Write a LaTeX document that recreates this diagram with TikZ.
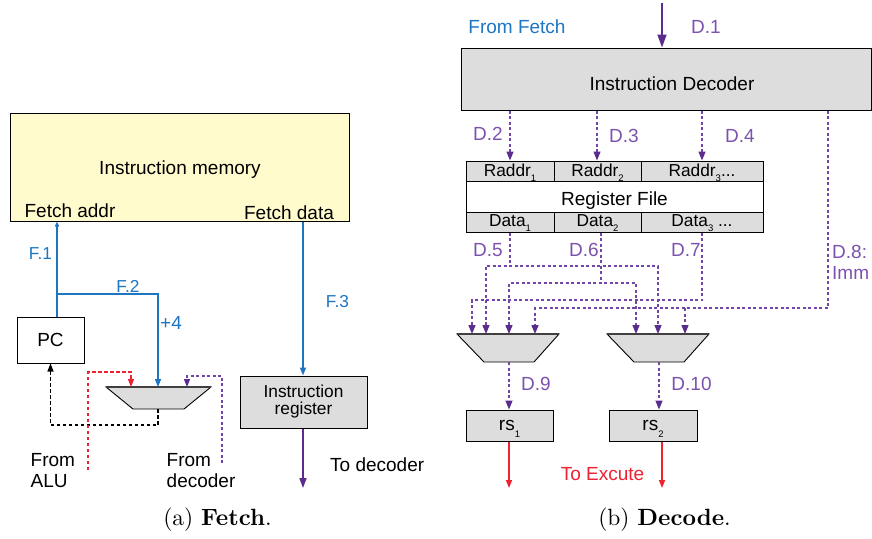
\documentclass[tikz,border=0pt]{standalone}
\usepackage{fontspec}
\usepackage{graphicx}
\newfontfamily\arialfam{Liberation Sans}
\usetikzlibrary{arrows.meta}

\definecolor{fblue}{HTML}{1E76C3}
\definecolor{ptext}{HTML}{7C52B0}
\definecolor{pline}{HTML}{7245A8}
\definecolor{ptip}{HTML}{5A2C8E}
\definecolor{ared}{HTML}{EE2231}
\definecolor{boxgray}{HTML}{DDDDDD}
\definecolor{memyellow}{HTML}{FFFBCD}

\newcommand\bigtxt{\arialfam\fontsize{19}{21}\selectfont}
\newcommand\smalltxt{\arialfam\fontsize{17.3}{17}\selectfont}
\newcommand\lowsub[2]{\raisebox{-#1}{\fontsize{9.5}{10}\selectfont #2}}

\tikzset{
  txt/.style={font=\bigtxt, inner sep=0pt, anchor=base},
  stxt/.style={font=\smalltxt, inner sep=0pt, anchor=base},
  ublock/.style={draw=black, line width=1pt, inner sep=0pt},
  gblock/.style={ublock, fill=boxgray},
  muxshape/.style={draw=black, line width=0.9pt, fill=boxgray},
  muxtop/.style={draw=black!75, line width=1.6pt},
  bluewire/.style={draw=fblue, line width=1.6pt, -{Triangle[length=8pt,width=6pt,color=fblue]}},
  bluesmall/.style={draw=fblue, line width=1.6pt, -{Triangle[length=5pt,width=4pt,color=fblue]}},
  pdash/.style={draw=pline, line width=1.3pt, dash pattern=on 3pt off 2.5pt},
  ptipend/.style={-{Triangle[length=9pt,width=7pt,color=ptip]}},
  ptipboth/.style={{Triangle[length=9pt,width=7pt,color=ptip]}-{Triangle[length=9pt,width=7pt,color=ptip]}},
  psolid/.style={draw=ptip, line width=1.6pt, -{Triangle[length=10pt,width=7pt,color=ptip]}},
  pbig/.style={draw=ptip, line width=1.6pt, -{Triangle[length=13pt,width=9pt,color=ptip]}},
  kdash/.style={draw=black, line width=1.3pt, dash pattern=on 3.5pt off 2.5pt, -{Triangle[length=8pt,width=6pt]}},
  rdash/.style={draw=ared, line width=1.3pt, dash pattern=on 3.5pt off 2.5pt, -{Triangle[length=8pt,width=6pt,color=ared]}},
  redwire/.style={draw=ared, line width=1.5pt, -{Triangle[length=8pt,width=6pt,color=ared]}},
  bluetxt/.style={txt, text=fblue},
  bluesm/.style={stxt, text=fblue},
  purtxt/.style={txt, text=ptext},
  caption/.style={inner sep=0pt, anchor=base},
}

\begin{document}
\begin{tikzpicture}[x=1pt,y=-1pt]
\useasboundingbox[fill=white] (0,0) rectangle (872,538);

%% ================= Fetch stage =================
\node[ublock, fill=memyellow, minimum width=339pt, minimum height=108pt] (mem) at (179.5,167) {};
\node[txt] (memlbl) at (180,174) {Instruction memory};
\node[txt] (faddr) at (70,217) {Fetch addr};
\node[txt] (fdata) at (289,219) {Fetch data};

\node[ublock, fill=white, minimum width=67pt, minimum height=46pt, font=\bigtxt] (pc) at (50.5,340) {PC};

\node[gblock, minimum width=127pt, minimum height=52pt, font=\smalltxt, align=center] (ir) at (303.5,402) {Instruction\\register};

% next-PC multiplexer
\filldraw[muxshape] (106,387) -- (211,387) -- (184,409) -- (133,409) -- cycle;
\draw[muxtop] (106,387) -- (211,387);
\coordinate (fmR) at (131,387);
\coordinate (fmC) at (158,387);
\coordinate (fmP) at (187,387);
\coordinate (fmB) at (158,409);

% PC -> memory address, and PC+4 into the mux
\coordinate (f1x) at (57,0);
\coordinate (f2s) at (57,294);
\draw[bluesmall] (pc.north -| f1x) -- (mem.south -| f1x);
\draw[bluewire] (f2s) -| (fmC);
\node[bluesm] (f1lbl) at (40.5,259) {F.1};
\node[bluesm] (f2lbl) at (128,292.5) {F.2};
\node[bluetxt] (p4lbl) at (171,329) {+4};

% mux output back to PC
\draw[kdash] (fmB) -- (158,425) -| (pc.south);

% branch targets
\coordinate (alu) at (88,470);
\coordinate (fdec) at (222,463);
\draw[rdash] (alu) -- (88,372) -| (fmR);
\draw[pdash, -{Triangle[length=8pt,width=6pt,color=ptip]}] (fdec) -- (222,376) -| (fmP);
\node[txt, align=left, anchor=base west] (alulbl) at (30.5,487) {From\\[0pt]ALU};
\node[txt, align=left, anchor=base west] (declbl) at (166.5,487) {From\\[0pt]decoder};

% fetched word into the instruction register
\coordinate (f3x) at (303,0);
\draw[bluewire] (mem.south -| f3x) -- (ir.north -| f3x);
\node[bluesm] (f3lbl) at (337.5,307) {F.3};
\coordinate (todec) at (303,488);
\draw[psolid] (ir.south -| f3x) -- (todec);
\node[txt, anchor=base west] (todeclbl) at (330,471) {To decoder};

\node[caption] (capa) at (217.5,525) {\scalebox{2.35}{(a) \textbf{Fetch}.}};

%% ================= Decode stage =================
\node[bluetxt] (fromfetch) at (517,33) {From Fetch};
\coordinate (ffin) at (662,3);
\node[gblock, minimum width=410pt, minimum height=62pt] (dec) at (666,79) {};
\node[txt] (declbl2) at (672,90.5) {Instruction Decoder};
\draw[pbig] (ffin) -- (dec.north -| ffin);
\node[purtxt] (d1) at (706,33) {D.1};

% register file
\node[gblock, minimum width=88pt, minimum height=20pt] (ra1) at (510,171) {};
\node[gblock, minimum width=87pt, minimum height=20pt] (ra2) at (597.5,171) {};
\node[gblock, minimum width=122pt, minimum height=20pt] (ra3) at (702,171) {};
\node[ublock, fill=white, minimum width=297pt, minimum height=31pt] (rf) at (614.5,196.5) {};
\node[gblock, minimum width=88pt, minimum height=20pt] (da1) at (510,222) {};
\node[gblock, minimum width=87pt, minimum height=20pt] (da2) at (597.5,222) {};
\node[gblock, minimum width=122pt, minimum height=20pt] (da3) at (702,222) {};

\node[stxt] at (510,176) {Raddr\lowsub{5pt}{1}};
\node[stxt] at (597.5,176) {Raddr\lowsub{5pt}{2}};
\node[stxt] at (702,176) {Raddr\lowsub{5pt}{3}...};
\node[txt] at (614.5,205.5) {Register File};
\node[stxt] at (510,226) {Data\lowsub{5pt}{1}};
\node[stxt] at (597.5,226) {Data\lowsub{5pt}{2}};
\node[stxt] at (702,226) {Data\lowsub{5pt}{3} ...};

% decoder outputs
\coordinate (d3x) at (597,0);
\draw[pdash, ptipend] (dec.south -| ra1) -- (ra1.north);
\draw[pdash, ptipend] (dec.south -| d3x) -- (ra2.north -| d3x);
\draw[pdash, ptipend] (dec.south -| ra3) -- (ra3.north);
\node[purtxt] (d2) at (488,140.5) {D.2};
\node[purtxt] (d3) at (624,142) {D.3};
\node[purtxt] (d4) at (740,142) {D.4};

% operand multiplexers
\filldraw[muxshape] (457,334) -- (559,334) -- (534,362) -- (484,362) -- cycle;
\draw[muxtop] (457,334) -- (559,334);
\filldraw[muxshape] (607,334) -- (709,334) -- (684,362) -- (634,362) -- cycle;
\draw[muxtop] (607,334) -- (709,334);
\coordinate (m1a) at (472,334);
\coordinate (m1b) at (486,334);
\coordinate (m1c) at (509,334);
\coordinate (m1d) at (535,334);
\coordinate (m2a) at (636,334);
\coordinate (m2b) at (658,334);
\coordinate (m2c) at (685,334);
\coordinate (m1out) at (509,362);
\coordinate (m2out) at (659,362);

% bus rails
\coordinate (r5) at (0,266);
\coordinate (r6) at (0,283);
\coordinate (r7) at (0,300);
\coordinate (r8) at (0,308);
\coordinate (d6x) at (601,0);
\coordinate (d8x) at (828,0);

% D.5
\draw[pdash] (da1.south) -- (da1.south |- r5);
\draw[pdash, ptipboth] (m1b) |- (m2b |- r5) -- (m2b);
% D.6
\draw[pdash] (da2.south -| d6x) -- (d6x |- r6);
\draw[pdash, ptipboth] (m1c) |- (m2a |- r6) -- (m2a);
% D.7
\draw[pdash, ptipend] (da3.south) -- (da3.south |- r7) -| (m1a);
% D.8 immediate
\draw[pdash, ptipend] (dec.south -| d8x) -- (d8x |- r8) -| (m1d);
\draw[pdash, ptipend] (m2c |- r8) -- (m2c);

\node[purtxt] (d5) at (488,256.5) {D.5};
\node[purtxt] (d6) at (584,256.5) {D.6};
\node[purtxt] (d7) at (686,256.5) {D.7};
\node[purtxt, align=left, anchor=base west] (d8) at (832,279.5) {D.8:\\[0pt]Imm};

% source registers
\node[gblock, minimum width=87pt, minimum height=31pt] (rs1) at (509.5,425.5) {};
\node[gblock, minimum width=88pt, minimum height=31pt] (rs2) at (653,425.5) {};
\node[txt] at (509.5,430) {rs\lowsub{7pt}{1}};
\node[txt] at (653,430) {rs\lowsub{7pt}{2}};

\draw[pdash, ptipend] (m1out) -- (rs1.north -| m1out);
\draw[pdash, ptipend] (m2out) -- (rs2.north -| m2out);
\node[purtxt] (d9) at (536,390.5) {D.9};
\node[purtxt] (d10) at (691.5,390.5) {D.10};

\coordinate (ex1) at (509,488);
\coordinate (ex2) at (662,488);
\draw[redwire] (rs1.south -| ex1) -- (ex1);
\draw[redwire] (rs2.south -| ex2) -- (ex2);
\node[txt, text=ared] (exlbl) at (602.5,480) {To Excute};

\node[caption] (capb) at (664.5,525) {\scalebox{2.35}{(b) \textbf{Decode}.}};
\end{tikzpicture}
\end{document}
